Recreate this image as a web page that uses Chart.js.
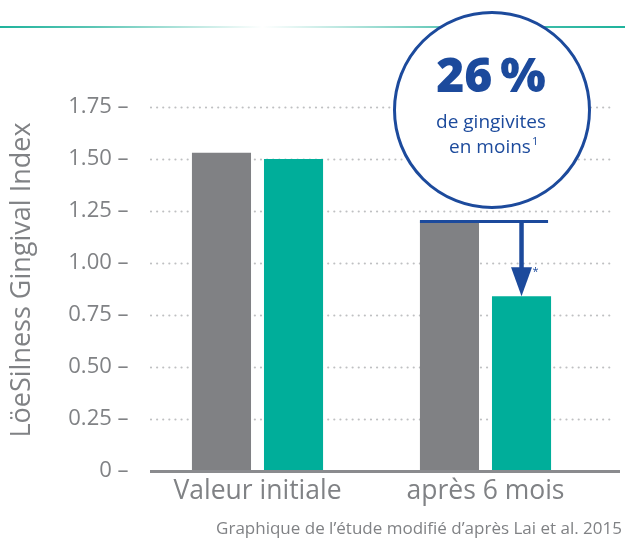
<!DOCTYPE html>
<html>
<head>
<meta charset="utf-8">
<script src="https://cdn.jsdelivr.net/npm/chart.js@4"></script>
<style>
  html, body { margin: 0; padding: 0; background: #fff; }
  #wrap { width: 625px; height: 538px; }
</style>
</head>
<body>
<div id="wrap"><canvas id="chart" width="625" height="538"></canvas></div>
<script>
const categories = ["Valeur initiale", "après 6 mois"];
const controlValues = [1.53, 1.20];
const testValues = [1.50, 0.84];
const yTickLabels = ["0", "0.25", "0.50", "0.75", "1.00", "1.25", "1.50", "1.75"];
const yTitle = "LöeSilness Gingival Index";
const badgeValue = "26\u2009%";
const badgeLines = ["de gingivites", "en moins"];
const caption = "Graphique de l\u2019étude modifié d\u2019après Lai et al. 2015";

const GRAY = "#808184";
const TEAL = "#00ae9a";
const BLUE = "#1c4a9c";
const TEXT = "#808285";
const FONT = "'Open Sans', sans-serif";

const decor = {
  id: "decor",
  beforeDatasetsDraw(chart) {
    const { ctx, scales: { y } } = chart;
    // dotted grid lines
    ctx.save();
    ctx.strokeStyle = "#bfc0c2";
    ctx.lineWidth = 2.2;
    ctx.lineCap = "round";
    ctx.setLineDash([0.01, 6.1]);
    y.ticks.forEach(t => {
      if (t.value === 0) return;
      const py = Math.round(y.getPixelForValue(t.value)) + 0.5;
      ctx.beginPath();
      ctx.moveTo(151, py);
      ctx.lineTo(615, py);
      ctx.stroke();
    });
    ctx.restore();
  },
  afterDatasetsDraw(chart) {
    const { ctx, chartArea, scales: { x, y } } = chart;
    ctx.save();
    // baseline
    const y0 = y.getPixelForValue(0);
    ctx.fillStyle = "#8a8b8e";
    ctx.fillRect(150, y0 - 1, 470, 3);

    // top decorative line
    const g = ctx.createLinearGradient(0, 0, 625, 0);
    g.addColorStop(0, "#1fb39c");
    g.addColorStop(0.15, "#5cc6b5");
    g.addColorStop(0.42, "#ffffff");
    g.addColorStop(0.72, "#5cc6b5");
    g.addColorStop(1, "#1fb39c");
    ctx.fillStyle = g;
    ctx.fillRect(0, 26, 625, 2);

    // y axis title
    ctx.save();
    ctx.translate(22, (chartArea.top + chartArea.bottom) / 2 - 9);
    ctx.rotate(-Math.PI / 2);
    ctx.font = "27px " + FONT;
    ctx.fillStyle = TEXT;
    ctx.textAlign = "center";
    ctx.textBaseline = "middle";
    ctx.fillText(yTitle, 0, 0);
    ctx.restore();

    // arrow from control to test bar (after 6 months)
    const ctrl = chart.getDatasetMeta(0).data[1];
    const test = chart.getDatasetMeta(1).data[1];
    ctx.strokeStyle = BLUE;
    ctx.fillStyle = BLUE;
    ctx.lineWidth = 3;
    ctx.beginPath();
    ctx.moveTo(ctrl.x - ctrl.width / 2, ctrl.y);
    ctx.lineTo(test.x + test.width / 2 - 3, ctrl.y);
    ctx.stroke();
    const headH = 29;
    ctx.lineWidth = 4.5;
    ctx.beginPath();
    ctx.moveTo(test.x, ctrl.y);
    ctx.lineTo(test.x, test.y - headH + 2);
    ctx.stroke();
    ctx.beginPath();
    ctx.moveTo(test.x - 10.5, test.y - headH);
    ctx.lineTo(test.x + 10.5, test.y - headH);
    ctx.lineTo(test.x, test.y);
    ctx.closePath();
    ctx.fill();
    ctx.font = "11px " + FONT;
    ctx.textAlign = "left";
    ctx.textBaseline = "middle";
    ctx.fillText("*", test.x + 11, test.y - 24);

    // badge circle
    const cx = x.getPixelForValue(1) + 6.5;
    const cy = y.getPixelForValue(1.75) + 3;
    ctx.beginPath();
    ctx.arc(cx, cy, 97.5, 0, Math.PI * 2);
    ctx.fillStyle = "#fff";
    ctx.fill();
    ctx.lineWidth = 3;
    ctx.strokeStyle = BLUE;
    ctx.stroke();
    ctx.fillStyle = BLUE;
    ctx.textAlign = "center";
    ctx.textBaseline = "alphabetic";
    ctx.font = "800 48px " + FONT;
    ctx.fillText(badgeValue, cx - 1, cy - 18);
    ctx.font = "19px " + FONT;
    ctx.fillText(badgeLines[0], cx - 1, cy + 18);
    const w2 = ctx.measureText(badgeLines[1]).width;
    ctx.fillText(badgeLines[1], cx - 2, cy + 43);
    ctx.font = "11px " + FONT;
    ctx.textAlign = "left";
    ctx.fillText("1", cx - 2 + w2 / 2 + 1, cy + 35);

    // caption
    ctx.font = "17px " + FONT;
    ctx.fillStyle = TEXT;
    ctx.textAlign = "right";
    ctx.fillText(caption, 622, 534);
    ctx.restore();
  }
};

new Chart(document.getElementById("chart"), {
  type: "bar",
  data: {
    labels: categories,
    datasets: [
      {
        label: "Contrôle",
        data: controlValues,
        backgroundColor: GRAY,
        categoryPercentage: 0.632,
        barPercentage: 0.82
      },
      {
        label: "Test",
        data: testValues,
        backgroundColor: TEAL,
        categoryPercentage: 0.632,
        barPercentage: 0.82
      }
    ]
  },
  options: {
    responsive: false,
    animation: false,
    layout: { padding: { top: 107, right: 25.5, left: 0, bottom: 0 } },
    plugins: {
      legend: { display: false },
      tooltip: { enabled: false }
    },
    scales: {
      x: {
        grid: { display: false, drawTicks: false },
        border: { display: false },
        ticks: {
          color: TEXT,
          font: { family: FONT, size: 26.5 },
          padding: 5
        },
        afterFit(scale) { scale.height = 67; }
      },
      y: {
        min: 0,
        max: 1.75,
        grid: { display: false, drawTicks: false },
        border: { display: false },
        ticks: {
          stepSize: 0.25,
          color: TEXT,
          font: { family: FONT, size: 22 },
          padding: 15,
          callback: (v, i) => yTickLabels[i] + " \u2013"
        },
        afterFit(scale) { scale.width = 143.5; }
      }
    }
  },
  plugins: [decor]
});
</script>
</body>
</html>
